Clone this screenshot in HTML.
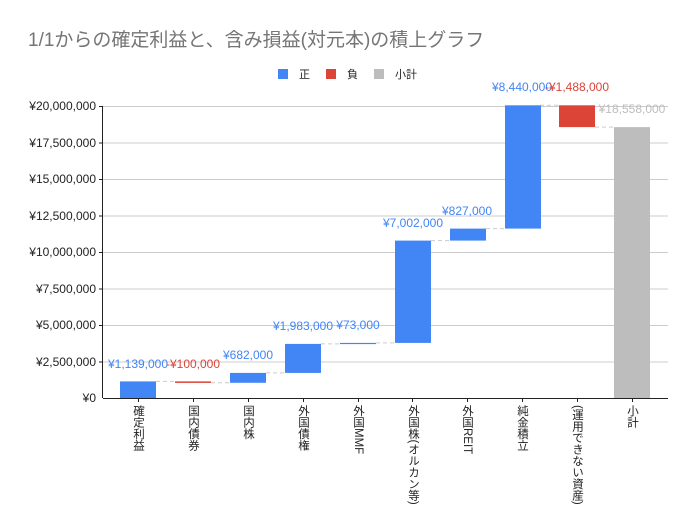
<!DOCTYPE html>
<html><head><meta charset="utf-8"><style>
body{margin:0;background:#fff;width:695px;height:530px;overflow:hidden;position:relative;font-family:"Liberation Sans","Noto Sans CJK JP",sans-serif}
.xl{position:absolute;top:405px;writing-mode:vertical-rl;font-size:11.5px;color:#222;line-height:12px;width:12px}
</style></head><body>
<svg width="695" height="530" style="position:absolute;left:0;top:0" font-family="Liberation Sans, Noto Sans CJK JP, sans-serif">
<text x="28" y="46" font-size="19" fill="#757575">1/1からの確定利益と、含み損益(対元本)の積上グラフ</text>
<rect x="278" y="69" width="10" height="10" fill="#4285f4"/><text x="299" y="78" font-size="11" fill="#222">正</text>
<rect x="326" y="69" width="10" height="10" fill="#db4437"/><text x="347" y="78" font-size="11" fill="#222">負</text>
<rect x="374" y="69" width="10" height="10" fill="#bdbdbd"/><text x="395" y="78" font-size="11" fill="#222">小計</text>
<g stroke="#cccccc" stroke-width="1">
<line x1="103" y1="106.5" x2="668" y2="106.5"/><line x1="103" y1="143" x2="668" y2="143"/><line x1="103" y1="179.5" x2="668" y2="179.5"/><line x1="103" y1="216" x2="668" y2="216"/><line x1="103" y1="252.5" x2="668" y2="252.5"/><line x1="103" y1="289" x2="668" y2="289"/><line x1="103" y1="325.5" x2="668" y2="325.5"/><line x1="103" y1="362" x2="668" y2="362"/>
</g>
<g stroke="#222" stroke-width="1">
<line x1="99" y1="106.5" x2="103" y2="106.5"/><line x1="99" y1="143" x2="103" y2="143"/><line x1="99" y1="179.5" x2="103" y2="179.5"/><line x1="99" y1="216" x2="103" y2="216"/><line x1="99" y1="252.5" x2="103" y2="252.5"/><line x1="99" y1="289" x2="103" y2="289"/><line x1="99" y1="325.5" x2="103" y2="325.5"/><line x1="99" y1="362" x2="103" y2="362"/>
<line x1="102.5" y1="106" x2="102.5" y2="398"/>
</g>
<g font-size="12" fill="#222" text-anchor="end">
<text x="96" y="110">¥20,000,000</text><text x="96" y="147">¥17,500,000</text><text x="96" y="183">¥15,000,000</text><text x="96" y="220">¥12,500,000</text><text x="96" y="256">¥10,000,000</text><text x="96" y="293">¥7,500,000</text><text x="96" y="329">¥5,000,000</text><text x="96" y="366">¥2,500,000</text><text x="96" y="402">¥0</text>
</g>
<g stroke="#cccccc" stroke-dasharray="4,3">
<line x1="156" y1="381.4" x2="175" y2="381.4"/>
<line x1="211" y1="382.8" x2="230" y2="382.8"/>
<line x1="266" y1="372.9" x2="285" y2="372.9"/>
<line x1="321" y1="343.9" x2="340" y2="343.9"/>
<line x1="376" y1="342.9" x2="395" y2="342.9"/>
<line x1="431" y1="240.6" x2="450" y2="240.6"/>
<line x1="486" y1="228.6" x2="505" y2="228.6"/>
<line x1="540" y1="105.3" x2="559" y2="105.3"/>
<line x1="595" y1="127.1" x2="614" y2="127.1"/>
</g>
<rect x="120" y="381.4" width="36" height="16.6" fill="#4285f4"/>
<rect x="175" y="381.4" width="36" height="1.5" fill="#db4437"/>
<rect x="230" y="372.9" width="36" height="9.9" fill="#4285f4"/>
<rect x="285" y="343.9" width="36" height="29" fill="#4285f4"/>
<rect x="340" y="342.9" width="36" height="1.2" fill="#4285f4"/>
<rect x="395" y="240.6" width="36" height="102.3" fill="#4285f4"/>
<rect x="450" y="228.6" width="36" height="12" fill="#4285f4"/>
<rect x="505" y="105.3" width="36" height="123.3" fill="#4285f4"/>
<rect x="559" y="105.3" width="36" height="21.8" fill="#db4437"/>
<rect x="614" y="127.1" width="36" height="270.9" fill="#bdbdbd"/>
<line x1="103" y1="398.5" x2="668" y2="398.5" stroke="#222"/>
<g stroke="#222"><line x1="138.5" y1="398" x2="138.5" y2="402"/><line x1="193.5" y1="398" x2="193.5" y2="402"/><line x1="248.5" y1="398" x2="248.5" y2="402"/><line x1="303.5" y1="398" x2="303.5" y2="402"/><line x1="358.5" y1="398" x2="358.5" y2="402"/><line x1="412.5" y1="398" x2="412.5" y2="402"/><line x1="467.5" y1="398" x2="467.5" y2="402"/><line x1="522.5" y1="398" x2="522.5" y2="402"/><line x1="577.5" y1="398" x2="577.5" y2="402"/><line x1="632.5" y1="398" x2="632.5" y2="402"/></g>
<g font-size="12" text-anchor="middle" fill="#4285f4">
<text x="138" y="368">¥1,139,000</text>
<text x="193" y="368" fill="#db4437">-¥100,000</text>
<text x="248" y="359">¥682,000</text>
<text x="303" y="330">¥1,983,000</text>
<text x="358" y="329">¥73,000</text>
<text x="413" y="227">¥7,002,000</text>
<text x="467" y="215">¥827,000</text>
<text x="522" y="91">¥8,440,000</text>
<text x="577" y="91" fill="#db4437">-¥1,488,000</text>
<text x="632" y="113" fill="#bdbdbd">¥18,558,000</text>
</g>
</svg>
<div class="xl" style="left:132px">確定利益</div>
<div class="xl" style="left:187px">国内債券</div>
<div class="xl" style="left:242px">国内株</div>
<div class="xl" style="left:297px">外国債権</div>
<div class="xl" style="left:352px">外国MMF</div>
<div class="xl" style="left:407px">外国株(オルカン等)</div>
<div class="xl" style="left:461px">外国REIT</div>
<div class="xl" style="left:516px">純金積立</div>
<div class="xl" style="left:571px">(運用できない資産)</div>
<div class="xl" style="left:626px">小計</div>
</body></html>
